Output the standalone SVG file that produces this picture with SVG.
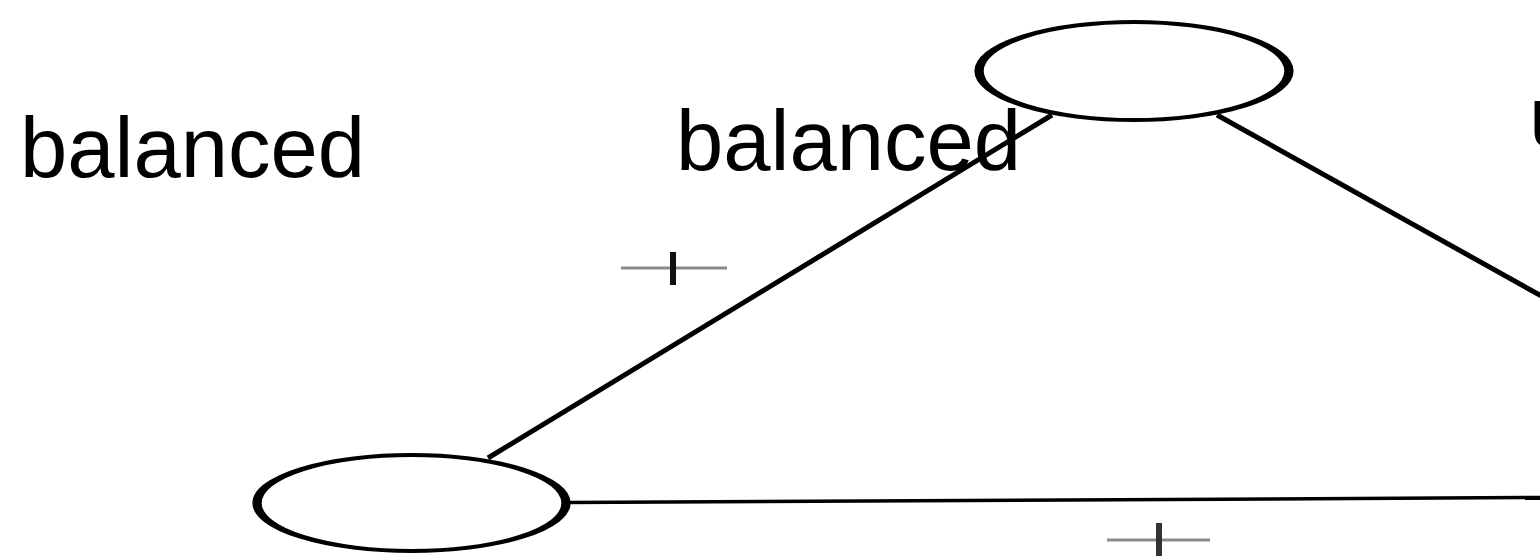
<svg xmlns="http://www.w3.org/2000/svg" width="1540" height="556" viewBox="0 0 1540 556">
<style>
.lbl{font-family:"Liberation Sans",Arial,sans-serif;font-size:85px;fill:#000}
.node{fill:#fff;stroke:#000;stroke-width:4}
.edge{stroke:#000;stroke-width:5;fill:none}
.tickh{stroke:#8a8a8a;stroke-width:3}
.tickv{stroke:#111;stroke-width:6}
</style>
<rect width="1540" height="556" fill="#fff"/>
<g id="connectors">
<line class="edge" x1="488" y1="458" x2="1052" y2="115"/>
<line class="edge" x1="1217" y1="115" x2="1545" y2="298"/>
<line class="edge" x1="568" y1="502.5" x2="1540" y2="497.5" style="stroke-width:3.5"/>
</g>
<g id="node-top">
<ellipse class="node" cx="0" cy="0" rx="66.5" ry="49" transform="translate(1134,71) scale(2.33,1)"/>
</g>
<g id="node-bottom">
<ellipse class="node" cx="0" cy="0" rx="66.3" ry="48" transform="translate(411.5,503) scale(2.33,1)"/>
</g>
<g id="tick-1">
<line class="tickh" x1="621" y1="268" x2="727" y2="268"/>
<line class="tickv" x1="673" y1="252" x2="673" y2="285"/>
</g>
<g id="tick-2">
<line class="tickh" x1="1107" y1="540" x2="1210" y2="540"/>
<line class="tickv" x1="1159" y1="523" x2="1159" y2="556" style="stroke:#333"/>
</g>
<g id="labels">
<text class="lbl" x="20" y="177">balanced</text>
<text class="lbl" x="676" y="170">balanced</text>
<text class="lbl" x="1529" y="146">unbalanced</text>
</g>
</svg>
